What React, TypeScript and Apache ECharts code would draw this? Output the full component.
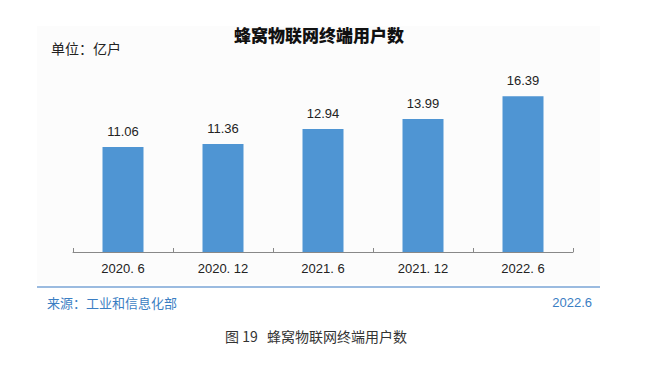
import React, { useEffect, useRef } from "react";
import * as echarts from "echarts";

const categories = ["2020. 6", "2020. 12", "2021. 6", "2021. 12", "2022. 6"];
const values = [11.06, 11.36, 12.94, 13.99, 16.39];
const title = "蜂窝物联网终端用户数";
const unitText = "单位：亿户";
const sourceText = "来源：工业和信息化部";
const dateText = "2022.6";
const caption = "图 19   蜂窝物联网终端用户数";

export default function App() {
  const ref = useRef<HTMLDivElement>(null);
  useEffect(() => {
    const chart = echarts.init(ref.current!, null, { renderer: "svg" });
    chart.setOption({
      animation: false,
      backgroundColor: "#ffffff",
      textStyle: { fontFamily: "'Noto Sans CJK SC', 'Noto Sans', sans-serif" },
      graphic: [
        {
          type: "rect",
          z: -10,
          shape: { x: 37, y: 26, width: 563, height: 258 },
          style: { fill: "#fcfcfc" },
          silent: true,
        },
        {
          type: "text",
          x: 319,
          y: 34,
          style: {
            text: title,
            fill: "#111",
            font: "900 17px 'Noto Sans CJK SC', sans-serif",
            align: "center",
            verticalAlign: "middle",
          },
        },
        {
          type: "text",
          x: 51,
          y: 48,
          style: {
            text: unitText,
            fill: "#222",
            font: "14px 'Noto Sans CJK SC', sans-serif",
            verticalAlign: "middle",
          },
        },
        {
          type: "line",
          shape: { x1: 37, y1: 287, x2: 600, y2: 287 },
          style: { stroke: "#9bbbe0", lineWidth: 2 },
        },
        {
          type: "text",
          x: 47,
          y: 302,
          style: {
            text: sourceText,
            fill: "#3b7ec3",
            font: "13px 'Noto Sans CJK SC', sans-serif",
            verticalAlign: "middle",
          },
        },
        {
          type: "text",
          x: 592,
          y: 302,
          style: {
            text: dateText,
            fill: "#3b7ec3",
            font: "13px 'Liberation Sans', sans-serif",
            align: "right",
            verticalAlign: "middle",
          },
        },
        {
          type: "text",
          x: 225,
          y: 336,
          style: {
            text: caption,
            fill: "#333",
            font: "14px 'Noto Sans CJK SC', sans-serif",
            align: "left",
            verticalAlign: "middle",
          },
        },
      ],
      grid: { left: 73, right: 84, top: 62, bottom: 113 },
      xAxis: {
        type: "category",
        data: categories,
        axisLine: { lineStyle: { color: "#888", width: 1 } },
        axisTick: { show: true, inside: true, length: 4, lineStyle: { color: "#888" } },
        axisLabel: {
          color: "#222",
          fontSize: 13,
          margin: 10,
          fontFamily: "'Liberation Sans', Arial, sans-serif",
        },
      },
      yAxis: {
        type: "value",
        min: 0,
        max: 20,
        show: false,
        splitLine: { show: false },
      },
      series: [
        {
          type: "bar",
          data: values,
          barWidth: 41,
          itemStyle: { color: "#4f95d3" },
          label: {
            show: true,
            position: "top",
            distance: 9,
            color: "#222",
            fontSize: 13,
            fontFamily: "'Liberation Sans', Arial, sans-serif",
            formatter: (p: any) => p.value.toFixed(2),
          },
        },
      ],
    });
    return () => chart.dispose();
  }, []);
  return (
    <div
      ref={ref}
      style={{ position: "absolute", left: 0, top: 0, width: 657, height: 365 }}
    />
  );
}
